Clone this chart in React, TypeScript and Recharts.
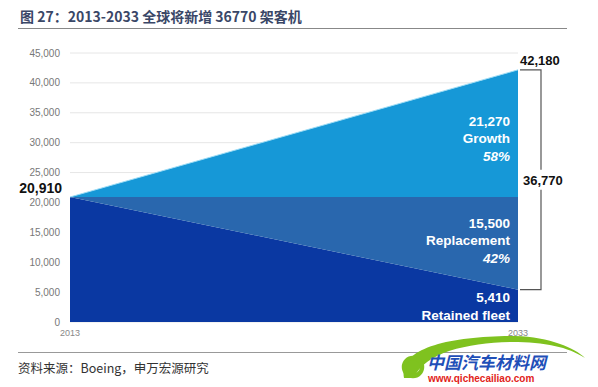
import React from 'react';
import {
  AreaChart, Area, XAxis, YAxis, CartesianGrid, ReferenceDot, ReferenceLine,
} from 'recharts';

const years = [2013, 2033];
const retained = [20910, 5410];
const replacement = [0, 15500];
const growth = [0, 21270];
const yTicks = [0, 5000, 10000, 15000, 20000, 25000, 30000, 35000, 40000, 45000];

const data = years.map((year, i) => ({
  year,
  retained: retained[i],
  replacement: replacement[i],
  growth: growth[i],
}));

const last = years.length - 1;
const startTotal = retained[0] + replacement[0] + growth[0];
const endTotal = retained[last] + replacement[last] + growth[last];
const newPlanes = replacement[last] + growth[last];

const fmt = (v: number) => v.toLocaleString('en-US');
const FONT = '"Liberation Sans", Arial, sans-serif';
const CJK = '"Noto Sans CJK SC", sans-serif';

const blockLabel = (lines: { text: string; italic?: boolean }[], shift = 0) => (props: any) => {
  const { cx, cy } = props;
  const lh = 17.5;
  const y0 = cy + shift - ((lines.length - 1) * lh) / 2;
  return (
    <g>
      {lines.map((l, i) => (
        <text key={i} x={cx - 8} y={y0 + i * lh} dy={5} textAnchor="end" fill="#fff"
          fontFamily={FONT} fontSize={13.5} fontWeight="bold" fontStyle={l.italic ? 'italic' : 'normal'}>
          {l.text}
        </text>
      ))}
    </g>
  );
};

const Bracket = (props: any) => {
  const { x1, y1, y2 } = props;
  const bx = x1 + 23;
  const top = Math.min(y1, y2);
  const bot = Math.max(y1, y2);
  const mid = (top + bot) / 2;
  return (
    <g>
      <path d={`M${x1 + 2},${top} H${bx} V${mid - 10} M${bx},${mid + 10} V${bot} H${x1 + 2}`}
        stroke="#555" strokeWidth={1.2} fill="none" />
      <text x={bx - 18} y={mid} dy={5} fill="#111" fontFamily={FONT} fontSize={13} fontWeight="bold">
        {fmt(newPlanes)}
      </text>
    </g>
  );
};

export default function App() {
  return (
    <div style={{ position: 'fixed', left: 0, top: 0, width: 598, height: 387, background: '#fff', overflow: 'hidden' }}>
      <div style={{ position: 'absolute', left: 20, top: 6, fontFamily: CJK, fontSize: 14, fontWeight: 'bold', color: '#3a4767', whiteSpace: 'nowrap' }}>
        图 27：2013-2033 全球将新增 36770 架客机
      </div>
      <div style={{ position: 'absolute', left: 18, top: 28, width: 549, height: 1, background: '#888' }} />

      <AreaChart width={598} height={387} data={data}
        margin={{ top: 53, right: 80, bottom: 45, left: 0 }}>
        <CartesianGrid horizontal vertical={false} stroke="#e6e6e6" />
        <XAxis dataKey="year" type="number" domain={[2013, 2033]} ticks={years}
          axisLine={false} tickLine={false} height={20}
          tick={{ fontSize: 9, fill: '#888', fontFamily: FONT }} />
        <YAxis domain={[0, 45000]} ticks={yTicks} width={70} axisLine={false} tickLine={false}
          tickFormatter={fmt} tick={{ fontSize: 10, fill: '#777', fontFamily: FONT, dx: -2 }} />
        <Area type="linear" dataKey="retained" stackId="a" fill="#0a38a2" fillOpacity={1} stroke="none" isAnimationActive={false} />
        <Area type="linear" dataKey="replacement" stackId="a" fill="#2967ae" fillOpacity={1} stroke="none" isAnimationActive={false} />
        <Area type="linear" dataKey="growth" stackId="a" fill="#1698d7" fillOpacity={1} stroke="#9ddcf5" strokeWidth={1} isAnimationActive={false} />

        <ReferenceDot x={years[0]} y={startTotal} r={0} shape={(p: any) => (
          <text x={p.cx - 8} y={p.cy - 4} textAnchor="end" fill="#111" fontFamily={FONT} fontSize={14} fontWeight="bold">{fmt(startTotal)}</text>
        )} />
        <ReferenceDot x={years[last]} y={endTotal} r={0} shape={(p: any) => (
          <text x={p.cx + 2} y={p.cy - 5} fill="#111" fontFamily={FONT} fontSize={13} fontWeight="bold">{fmt(endTotal)}</text>
        )} />
        <ReferenceLine segment={[{ x: years[last], y: endTotal }, { x: years[last], y: retained[last] }]}
          shape={Bracket} />

        <ReferenceDot x={years[last]} y={retained[last] + replacement[last] + growth[last] / 2} r={0}
          shape={blockLabel([{ text: fmt(growth[last]) }, { text: 'Growth' }, { text: '58%', italic: true }], 5)} />
        <ReferenceDot x={years[last]} y={retained[last] + replacement[last] / 2} r={0}
          shape={blockLabel([{ text: fmt(replacement[last]) }, { text: 'Replacement' }, { text: '42%', italic: true }], -3)} />
        <ReferenceDot x={years[last]} y={retained[last] / 2} r={0}
          shape={blockLabel([{ text: fmt(retained[last]) }, { text: 'Retained fleet' }])} />
      </AreaChart>

      <div style={{ position: 'absolute', left: 18, top: 352, width: 549, height: 1, background: '#999' }} />
      <div style={{ position: 'absolute', left: 18, top: 358, fontFamily: CJK, fontSize: 12.5, color: '#333', whiteSpace: 'nowrap' }}>
        资料来源：Boeing，申万宏源研究
      </div>

      <svg width={598} height={387} style={{ position: 'absolute', left: 0, top: 0, pointerEvents: 'none' }}>
        <path d="M404,378 C398,348 450,336 515,336 C550,337 575,348 585,358 C568,347 545,342 512,342 C468,343 425,352 414,378 Z" fill="#7fc21f" />
        <circle cx={413} cy={367} r={9} fill="none" stroke="#7fc21f" strokeWidth={4.5} />
        <text x={427} y={369} fill="#1f4fb8" fontFamily={CJK} fontSize={17} fontWeight="bold" fontStyle="italic">中国汽车材料网</text>
        <text x={428} y={382} fill="#e2231a" fontFamily={FONT} fontSize={10} fontWeight="bold">www.qichecailiao.com</text>
      </svg>
    </div>
  );
}
